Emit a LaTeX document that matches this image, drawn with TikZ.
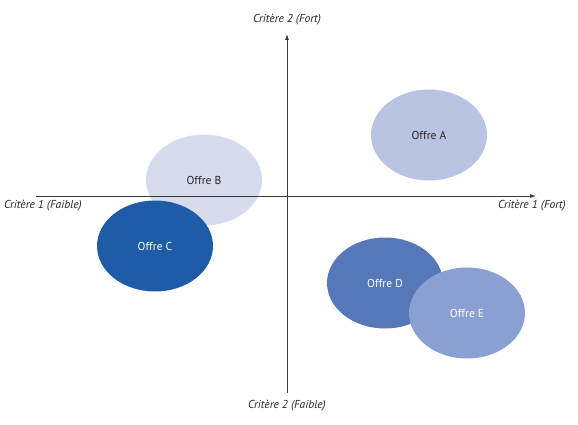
\documentclass[tikz,border=0pt]{standalone}
\usepackage{fontspec}
\setmainfont{PT Sans}
\usetikzlibrary{arrows.meta,shapes.geometric}
\definecolor{colA}{HTML}{B9C4E3}
\definecolor{colB}{HTML}{D6DBEE}
\definecolor{colC}{HTML}{1F5CA8}
\definecolor{colD}{HTML}{5677B8}
\definecolor{colE}{HTML}{8A9FD2}
\definecolor{axiscol}{HTML}{3A3A3A}
\begin{document}
\begin{tikzpicture}[x=1pt,y=-1pt,
  offre/.style={ellipse, minimum width=116pt, minimum height=91pt, inner sep=0pt, font=\fontsize{11.5}{13}\selectfont},
  axislabel/.style={font=\itshape\fontsize{11.5}{13}\selectfont, text=black!85, inner sep=0pt},
  axisline/.style={draw=axiscol, line width=0.8pt, -{Latex[length=6pt,width=4pt]}}]
\useasboundingbox (0,0) rectangle (578,425);
\node[offre, fill=colB, text=black!85] (B) at (204,180) {Offre B};
\coordinate (xl) at (36,196);
\coordinate (xr) at (536,196);
\coordinate (yb) at (287,393);
\coordinate (yt) at (287,34);
\draw[axisline] (xl) -- (xr);
\draw[axisline] (yb) -- (yt);
\node[offre, fill=colC, text=white] (C) at (155,246) {Offre C};
\node[offre, fill=colA, text=black!85] (A) at (429,135) {Offre A};
\node[offre, fill=colD, text=white] (D) at (385,283) {Offre D};
\node[offre, fill=colE, text=white] (E) at (467,313) {Offre E};
\node[axislabel] (lt) at (287,20) {Critère 2 (Fort)};
\node[axislabel] (lb) at (287,406) {Critère 2 (Faible)};
\node[axislabel, anchor=west] (ll) at (4,206) {Critère 1 (Faible)};
\node[axislabel, anchor=east] (lr) at (566,206) {Critère 1 (Fort)};
\end{tikzpicture}
\end{document}
